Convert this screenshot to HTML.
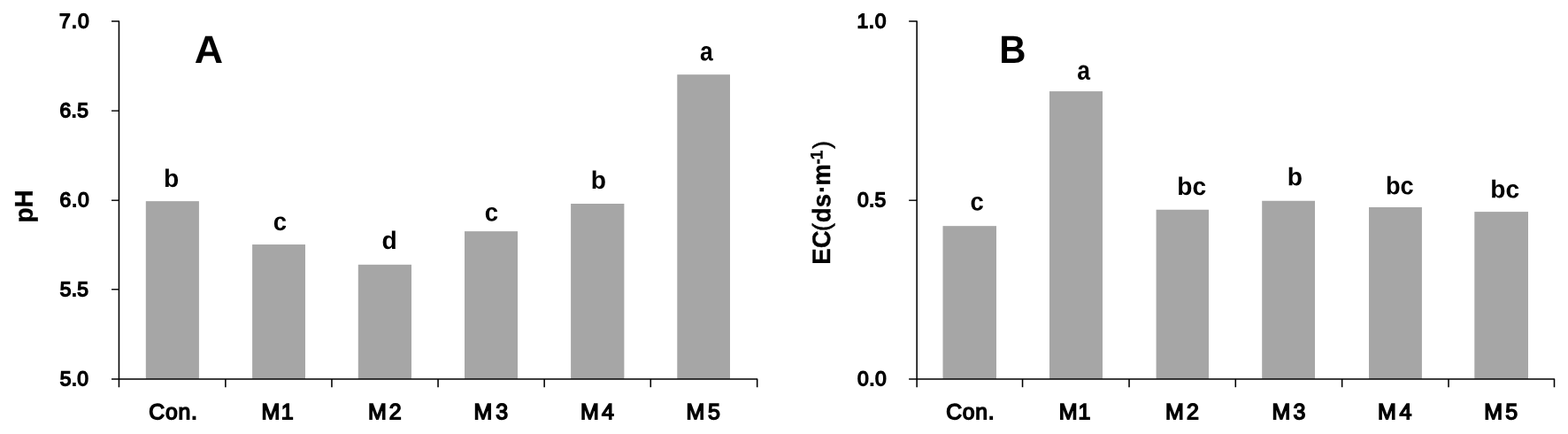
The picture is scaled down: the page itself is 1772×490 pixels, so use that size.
<!DOCTYPE html>
<html lang="en">
<head>
<meta charset="utf-8">
<title>Soil pH and EC by treatment</title>
<style>
html,body{margin:0;padding:0;background:#fff;}
body{width:1772px;height:490px;overflow:hidden;}
svg{display:block;}
text{font-family:"Liberation Sans",sans-serif;font-weight:bold;fill:#000;white-space:pre;text-rendering:geometricPrecision;}
.pb{font-size:28.4px;stroke:#000;stroke-width:0.4px;}
.pp{font-size:27.5px;font-weight:normal;stroke:#000;stroke-width:0.5px;}
.ps{font-size:19.4px;}
.tk{font-size:22.8px;font-weight:normal;stroke:#000;stroke-width:1.5px;}
.xl{font-size:25px;font-weight:normal;stroke:#000;stroke-width:1.5px;}
.lt{font-size:28.2px;}
.big{font-size:44px;}
.yl{font-size:28.6px;stroke:#000;stroke-width:0.4px;}
.sup{font-size:19.3px;}
</style>
</head>
<body>
<svg width="1772" height="490" viewBox="0 0 1772 490">
<rect x="0" y="0" width="1772" height="490" fill="#fff"/>
<g id="chartA">
<rect x="164.8" y="227.15" width="60.1" height="200.75" fill="#a6a6a6"/>
<rect x="285.1" y="276.05" width="59.9" height="151.85" fill="#a6a6a6"/>
<rect x="404.8" y="298.8" width="60.2" height="129.1" fill="#a6a6a6"/>
<rect x="525" y="261.15" width="60" height="166.75" fill="#a6a6a6"/>
<rect x="645.1" y="230" width="60.3" height="197.9" fill="#a6a6a6"/>
<rect x="765.3" y="84.2" width="59.7" height="343.7" fill="#a6a6a6"/>
<polyline points="126.05,23.9 134.45,23.9 134.45,437.2" fill="none" stroke="#000" stroke-width="1.55" stroke-linejoin="round"/>
<polyline points="126.05,427.9 855.7,427.9 855.7,437.2" fill="none" stroke="#000" stroke-width="1.55" stroke-linejoin="round"/>
<line x1="254.85" y1="427.9" x2="254.85" y2="437.2" stroke="#000" stroke-width="1.55"/>
<line x1="374.95" y1="427.9" x2="374.95" y2="437.2" stroke="#000" stroke-width="1.55"/>
<line x1="495.05" y1="427.9" x2="495.05" y2="437.2" stroke="#000" stroke-width="1.55"/>
<line x1="615.15" y1="427.9" x2="615.15" y2="437.2" stroke="#000" stroke-width="1.55"/>
<line x1="735.3" y1="427.9" x2="735.3" y2="437.2" stroke="#000" stroke-width="1.55"/>
<line x1="126.05" y1="125.1" x2="134.45" y2="125.1" stroke="#000" stroke-width="1.4"/>
<line x1="126.05" y1="226.2" x2="134.45" y2="226.2" stroke="#000" stroke-width="1.4"/>
<line x1="126.05" y1="326.75" x2="134.45" y2="326.75" stroke="#000" stroke-width="1.4"/>
<text id="ay0" class="tk" transform="matrix(1,0.0005,0,1,67,31.5)" letter-spacing="1.03">7.0</text>
<text id="ay1" class="tk" transform="matrix(1,0.0005,0,1,67.5,132.25)" letter-spacing="0.34">6.5</text>
<text id="ay2" class="tk" transform="matrix(1,0.0005,0,1,67.5,233.25)" letter-spacing="0.7">6.0</text>
<text id="ay3" class="tk" transform="matrix(1,0.0005,0,1,67.75,334.25)" letter-spacing="0.22">5.5</text>
<text id="ay4" class="tk" transform="matrix(1,0.0005,0,1,67.75,435.25)" letter-spacing="0.22">5.0</text>
<text id="ax0" class="xl" style="font-size:24.7px" transform="matrix(1,0.0005,0,1,168.25,473.25)" letter-spacing="0.83">Con.</text>
<text id="ax1" class="xl" transform="matrix(1,0.0005,0,1,295.5,473.25)" letter-spacing="1.4">M1</text>
<text id="ax2" class="xl" transform="matrix(1,0.0005,0,1,416,473.25)" letter-spacing="2.9">M2</text>
<text id="ax3" class="xl" transform="matrix(1,0.0005,0,1,535.5,473.25)" letter-spacing="3.91">M3</text>
<text id="ax4" class="xl" transform="matrix(1,0.0005,0,1,656,473.25)" letter-spacing="3.26">M4</text>
<text id="ax5" class="xl" transform="matrix(1,0.0005,0,1,775.5,473.25)" letter-spacing="3.55">M5</text>
<text id="al0" class="lt" transform="matrix(1,0.0005,0,1,185,211)">b</text>
<text id="al1" class="lt" transform="matrix(0.975,0.0005,0,1.03,308.75,260)">c</text>
<text id="al2" class="lt" transform="matrix(1,0.0005,0,1,431.5,281)">d</text>
<text id="al3" class="lt" transform="matrix(0.975,0.0005,0,1.03,547.75,249.5)">c</text>
<text id="al4" class="lt" transform="matrix(1,0.0005,0,1,667.75,213)">b</text>
<text id="al5" class="lt" transform="matrix(0.94,0.0005,0,1.07,791,68.25)">a</text>
<text id="abig" class="big" transform="matrix(1.017,0.0005,0,1,219.75,71)">A</text>
<text id="ayl" class="yl" transform="matrix(0.0005,-0.975,1,0.0005,36.75,251.5)">pH</text>
</g>
<g id="chartB">
<rect x="1065.5" y="255.15" width="60.5" height="172.75" fill="#a6a6a6"/>
<rect x="1186" y="103.1" width="60" height="324.8" fill="#a6a6a6"/>
<rect x="1306.6" y="236.75" width="59.4" height="191.15" fill="#a6a6a6"/>
<rect x="1426.2" y="226.75" width="59.8" height="201.15" fill="#a6a6a6"/>
<rect x="1547" y="234" width="59.9" height="193.9" fill="#a6a6a6"/>
<rect x="1666.3" y="239.1" width="60.7" height="188.8" fill="#a6a6a6"/>
<polyline points="1027.15,23.9 1036.15,23.9 1036.15,437.2" fill="none" stroke="#000" stroke-width="1.55" stroke-linejoin="round"/>
<polyline points="1027.15,427.9 1756.5,427.9 1756.5,437.2" fill="none" stroke="#000" stroke-width="1.55" stroke-linejoin="round"/>
<line x1="1155.55" y1="427.9" x2="1155.55" y2="437.2" stroke="#000" stroke-width="1.55"/>
<line x1="1276.05" y1="427.9" x2="1276.05" y2="437.2" stroke="#000" stroke-width="1.55"/>
<line x1="1396.3" y1="427.9" x2="1396.3" y2="437.2" stroke="#000" stroke-width="1.55"/>
<line x1="1516.65" y1="427.9" x2="1516.65" y2="437.2" stroke="#000" stroke-width="1.55"/>
<line x1="1637" y1="427.9" x2="1637" y2="437.2" stroke="#000" stroke-width="1.55"/>
<line x1="1027.15" y1="226.2" x2="1036.15" y2="226.2" stroke="#000" stroke-width="1.4"/>
<text id="by0" class="tk" transform="matrix(1,0.0005,0,1,968.5,31.5)" letter-spacing="0.59">1.0</text>
<text id="by1" class="tk" transform="matrix(1,0.0005,0,1,969,233.25)" letter-spacing="0.21">0.5</text>
<text id="by2" class="tk" transform="matrix(1,0.0005,0,1,969,435.25)" letter-spacing="0.45">0.0</text>
<text id="bx0" class="xl" style="font-size:24.7px" transform="matrix(1,0.0005,0,1,1069.25,473.25)" letter-spacing="0.72">Con.</text>
<text id="bx1" class="xl" transform="matrix(1,0.0005,0,1,1196.75,473.25)" letter-spacing="1.03">M1</text>
<text id="bx2" class="xl" transform="matrix(1,0.0005,0,1,1317,473.25)" letter-spacing="3.09">M2</text>
<text id="bx3" class="xl" transform="matrix(1,0.0005,0,1,1437.5,473.25)" letter-spacing="3.14">M3</text>
<text id="bx4" class="xl" transform="matrix(1,0.0005,0,1,1557,473.25)" letter-spacing="3.66">M4</text>
<text id="bx5" class="xl" transform="matrix(1,0.0005,0,1,1677.25,473.25)" letter-spacing="3.11">M5</text>
<text id="bl0" class="lt" transform="matrix(0.975,0.0005,0,1.03,1096.5,237.5)">c</text>
<text id="bl1" class="lt" transform="matrix(0.94,0.0005,0,1.07,1217.25,89.75)">a</text>
<text id="bl2" class="lt" transform="matrix(1,0.0005,0,1,1330.25,220)">bc</text>
<text id="bl3" class="lt" transform="matrix(1,0.0005,0,1,1454.75,209.25)">b</text>
<text id="bl4" class="lt" transform="matrix(0.965,0.0005,0,1,1566,219.25)">bc</text>
<text id="bl5" class="lt" transform="matrix(1,0.0005,0,1,1684.25,223.25)">bc</text>
<text id="bbig" class="big" transform="matrix(0.95,0.0005,0,1,1129.25,71)">B</text>
<text id="byl" class="yl" transform="matrix(0.0005,-0.97,1,0.0005,938,297)"><tspan id="p_ec" class="pb" x="-1.75" y="0">EC</tspan><tspan id="p_lp" class="pp" x="37" y="-0.25">(</tspan><tspan id="p_ds" class="pb" x="47.25" y="0.25">ds</tspan><tspan id="p_dot" class="pb" x="81.5" y="0.25">·</tspan><tspan id="p_m" class="pb" x="90" y="0">m</tspan><tspan id="p_min" class="ps" x="115" y="-8">-</tspan><tspan id="p_one" class="ps" x="120.25" y="-8.5">1</tspan><tspan id="p_rp" class="pp" x="133" y="0">)</tspan></text>
</g>
</svg>
</body>
</html>
